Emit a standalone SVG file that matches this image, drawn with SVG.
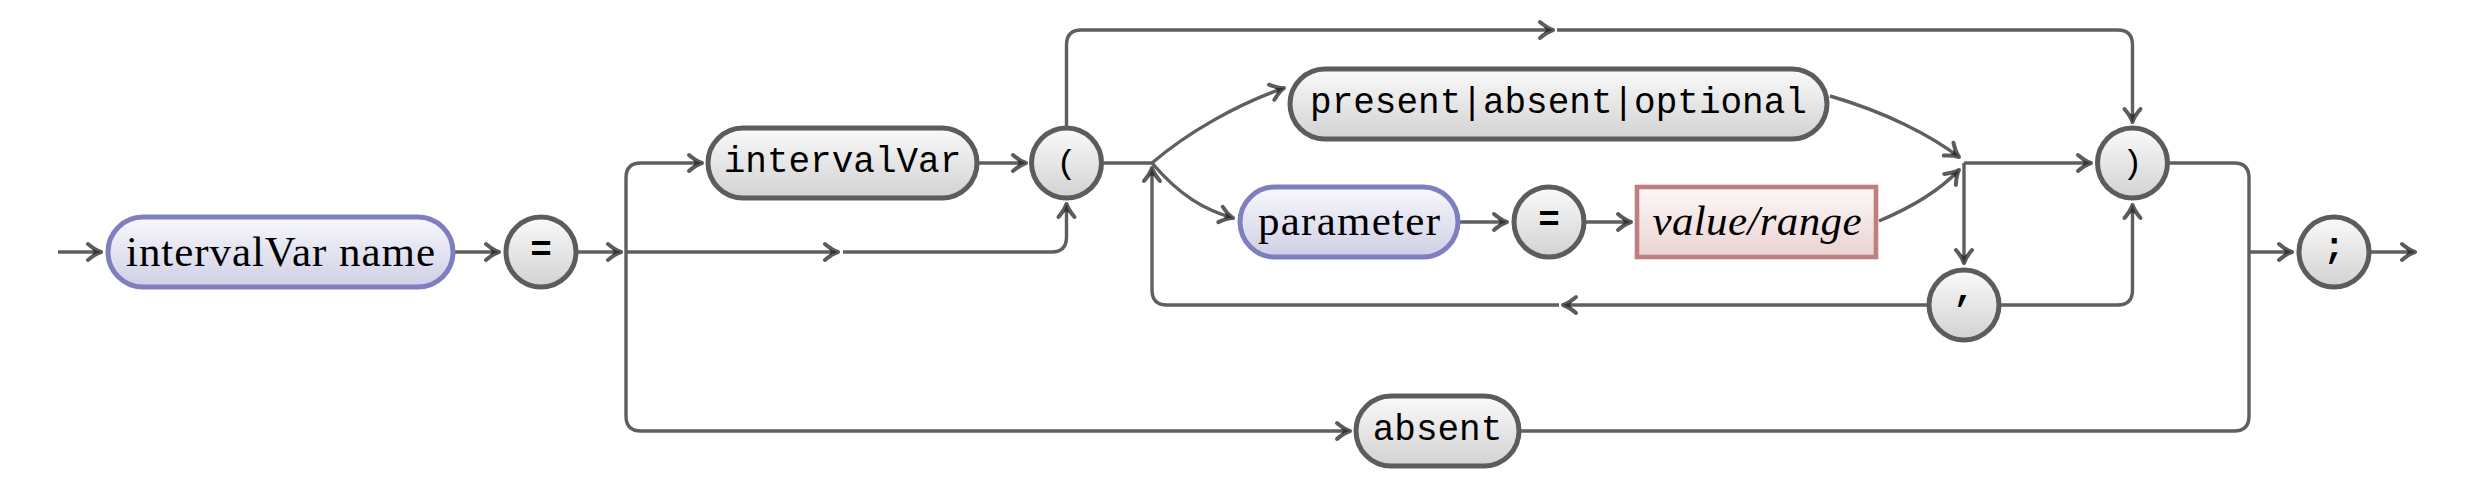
<svg xmlns="http://www.w3.org/2000/svg" width="2477" height="504" viewBox="0 0 2477 504">
<style>
.conn{fill:none;stroke:#5f5f5f;stroke-width:3.4;stroke-linejoin:round}
.arr{marker-end:url(#ah)}
.gray{fill:url(#gGray);stroke:#5c5c5c;stroke-width:5}
.blue{fill:url(#gBlue);stroke:#7f7fc0;stroke-width:5}
.red{fill:url(#gRed);stroke:#c07f7f;stroke-width:4.6}
.mono{font-family:"Liberation Mono","DejaVu Sans Mono",monospace;font-size:36px;fill:#000;text-anchor:middle}
.sym{font-family:"Liberation Mono","DejaVu Sans Mono",monospace;font-size:34px;fill:#000;text-anchor:middle}
.serif{font-family:"Liberation Serif","DejaVu Serif",serif;font-size:43px;fill:#000;text-anchor:middle}
.ital{font-style:italic}
</style>
<defs>
<linearGradient id="gGray" x1="0" y1="0" x2="0" y2="1">
<stop offset="0" stop-color="#fafafa"/><stop offset="1" stop-color="#d2d2d2"/>
</linearGradient>
<linearGradient id="gBlue" x1="0" y1="0" x2="0" y2="1">
<stop offset="0" stop-color="#f8f8fc"/><stop offset="1" stop-color="#cfcfe6"/>
</linearGradient>
<linearGradient id="gRed" x1="0" y1="0" x2="0" y2="1">
<stop offset="0" stop-color="#fdf8f8"/><stop offset="1" stop-color="#ead2d2"/>
</linearGradient>
<marker id="ah" viewBox="-18 -11 22 22" refX="0" refY="0" markerWidth="22" markerHeight="22" markerUnits="userSpaceOnUse" orient="auto" overflow="visible">
<path d="M-13,-8 Q-6,-2 0,0 Q-6,2 -13,8" fill="none" stroke="#5c5c5c" stroke-width="4" stroke-linecap="round" stroke-linejoin="round"/>
<path d="M0,0 L-9,-3 L-7,0 L-9,3 Z" fill="#333"/>
</marker>
</defs>

<g id="connectors">
<path class="conn arr" d="M58,252 H101"/>
<path class="conn arr" d="M455,252 H499"/>
<path class="conn arr" d="M578,252 H621"/>
<path class="conn arr" d="M626,252 V178 Q626,163 641,163 H702"/>
<path class="conn arr" d="M626,252 V416 Q626,431 641,431 H1350"/>
<path class="conn arr" d="M626,252 H838"/>
<path class="conn arr" d="M843,252 H1051.5 Q1066.5,252 1066.5,237 V204"/>
<path class="conn arr" d="M979,163 H1026"/>
<path class="conn arr" d="M1066.5,128 V45 Q1066.5,30 1081.5,30 H1553"/>
<path class="conn arr" d="M1557,30 H2117.5 Q2132.5,30 2132.5,45 V122"/>
<path class="conn" d="M1103.5,163 H1152"/>
<path class="conn arr" d="M1152,163 C1188,132 1238,104 1284,88"/>
<path class="conn arr" d="M1152,163 C1180,196 1205,210 1233,218"/>
<path class="conn arr" d="M1460,222 H1507"/>
<path class="conn arr" d="M1584,222 H1631"/>
<path class="conn arr" d="M1830,96 C1885,112 1930,135 1959,157"/>
<path class="conn arr" d="M1879,221 C1910,208 1940,190 1959,170"/>
<path class="conn arr" d="M1964,163 H2091"/>
<path class="conn arr" d="M1964,163 V263"/>
<path class="conn arr" d="M2000,305 H2117.5 Q2132.5,305 2132.5,290 V205"/>
<path class="conn arr" d="M1928,305 H1563"/>
<path class="conn arr" d="M1559,305 H1167 Q1152,305 1152,290 V168"/>
<path class="conn" d="M2169.5,163 H2234 Q2249,163 2249,178 V416 Q2249,431 2234,431 H1521"/>
<path class="conn arr" d="M2249,252 H2292"/>
<path class="conn arr" d="M2371,252 H2415"/>
</g>

<g id="node-intervalVar-name">
<rect class="blue" x="108" y="217" width="345" height="70" rx="35"/>
<text class="serif" x="280.5" y="266" textLength="309" lengthAdjust="spacing">intervalVar name</text>
</g>
<g id="node-eq1">
<circle class="gray" cx="541" cy="252" r="35"/>
<text class="mono" x="541" y="261" font-weight="bold">=</text>
</g>
<g id="node-intervalVar">
<rect class="gray" x="708" y="128" width="269" height="70" rx="35"/>
<text class="mono" x="842.5" y="172">intervalVar</text>
</g>
<g id="node-lparen">
<circle class="gray" cx="1066.5" cy="163" r="35"/>
<text class="sym" x="1066.5" y="173">(</text>
</g>
<g id="node-present">
<rect class="gray" x="1290" y="69" width="537" height="70" rx="35"/>
<text class="mono" x="1558.5" y="113">present|absent|optional</text>
</g>
<g id="node-parameter">
<rect class="blue" x="1240" y="187" width="218" height="70" rx="35"/>
<text class="serif" x="1349" y="235" textLength="182" lengthAdjust="spacing">parameter</text>
</g>
<g id="node-eq2">
<circle class="gray" cx="1549" cy="222" r="35"/>
<text class="mono" x="1549" y="231" font-weight="bold">=</text>
</g>
<g id="node-value">
<rect class="red" x="1637" y="187" width="239" height="70"/>
<text class="serif ital" x="1757" y="235" textLength="209" lengthAdjust="spacing">value/range</text>
</g>
<g id="node-rparen">
<circle class="gray" cx="2132.5" cy="163" r="35"/>
<text class="sym" x="2132.5" y="173">)</text>
</g>
<g id="node-comma">
<circle class="gray" cx="1964" cy="305" r="35"/>
<text class="mono" x="1964" y="300" font-weight="bold">,</text>
</g>
<g id="node-semicolon">
<circle class="gray" cx="2334" cy="252" r="35"/>
<text class="mono" x="2334" y="258" font-weight="bold">;</text>
</g>
<g id="node-absent">
<rect class="gray" x="1356" y="396" width="163" height="70" rx="35"/>
<text class="mono" x="1437.5" y="440">absent</text>
</g>
</svg>
